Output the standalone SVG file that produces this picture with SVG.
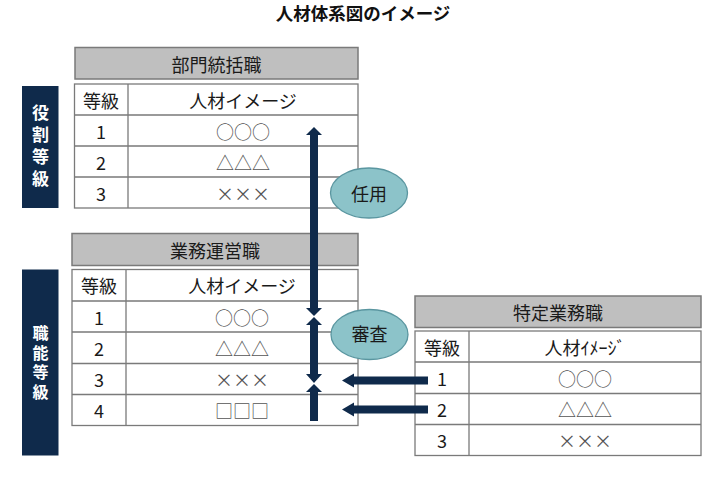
<svg xmlns="http://www.w3.org/2000/svg" width="720" height="498" viewBox="0 0 720 498">
<style>
text{font-family:"Noto Sans CJK JP","Noto Sans",sans-serif;dominant-baseline:central;text-anchor:middle;}
.t{font-size:18px;fill:#1a1a1a;}
.sym{font-size:18px;fill:#555;}
.title{font-size:17.5px;font-weight:bold;fill:#111;}
.hdr{fill:#bfbfbf;stroke:#7a7a7a;stroke-width:1.5;}
.tbl{fill:#fff;stroke:#7a7a7a;stroke-width:1.3;}
.ln{stroke:#7a7a7a;stroke-width:1.3;fill:none;}
.bar{fill:#0f2a4b;}
.bt{font-weight:bold;fill:#fff;writing-mode:vertical-rl;}
.arr{fill:#0f2a4b;}
.ell{fill:#8cc3c9;stroke:#5a96a0;stroke-width:1.3;}
</style>
<rect width="720" height="498" fill="#fff"/>
<text id="title" class="title" x="363" y="12">人材体系図のイメージ</text>

<g id="bar-yakuwari">
<rect class="bar" x="22" y="86" width="36.5" height="122"/>
<text class="bt" x="40.5" y="148" style="font-size:17px;letter-spacing:5px">役割等級</text>
</g>

<g id="bar-shokuno">
<rect class="bar" x="22" y="269.5" width="36.5" height="186"/>
<text class="bt" x="40.5" y="364" style="font-size:16px;letter-spacing:3.5px">職能等級</text>
</g>

<g id="table-bumon">
<rect class="hdr" x="75" y="47.5" width="283" height="31.5"/>
<text class="t" x="216.5" y="63.5">部門統括職</text>
<rect class="tbl" x="74.5" y="84" width="283.5" height="124"/>
<path class="ln" d="M128 84V208M74.5 115H358M74.5 146H358M74.5 177H358"/>
<text class="t" x="101" y="99.5">等級</text>
<text class="t" x="243" y="99.5">人材イメージ</text>
<text class="t" x="101" y="130.5">1</text>
<text class="sym" x="243" y="130.5">○○○</text>
<text class="t" x="101" y="161.5">2</text>
<text class="sym" x="243" y="161.5">△△△</text>
<text class="t" x="101" y="192.5">3</text>
<text class="sym" x="243" y="192.5">×××</text>
</g>

<g id="table-gyomu">
<rect class="hdr" x="72" y="233.5" width="286" height="32"/>
<text class="t" x="215" y="249.5">業務運営職</text>
<rect class="tbl" x="72" y="269.5" width="286" height="156"/>
<path class="ln" d="M126 269.5V425.5M72 301H358M72 332H358M72 363.5H358M72 394.5H358"/>
<text class="t" x="99" y="285.3">等級</text>
<text class="t" x="242" y="285.3">人材イメージ</text>
<text class="t" x="99" y="316.5">1</text>
<text class="sym" x="242" y="316.5">○○○</text>
<text class="t" x="99" y="347.8">2</text>
<text class="sym" x="242" y="347.8">△△△</text>
<text class="t" x="99" y="379">3</text>
<text class="sym" x="242" y="379">×××</text>
<text class="t" x="99" y="410">4</text>
<text class="sym" x="242" y="410">□□□</text>
</g>

<g id="table-tokutei">
<rect class="hdr" x="415" y="296" width="286" height="31.5"/>
<text class="t" x="558" y="311.5">特定業務職</text>
<rect class="tbl" x="415" y="331" width="286" height="124.5"/>
<path class="ln" d="M469 331V455.5M415 362H701M415 393.5H701M415 424.5H701"/>
<text class="t" x="442" y="346.5">等級</text>
<text class="t" x="585" y="346.5">人材ｲﾒｰｼﾞ</text>
<text class="t" x="442" y="377.8">1</text>
<text class="sym" x="585" y="377.8">○○○</text>
<text class="t" x="442" y="409">2</text>
<text class="sym" x="585" y="409">△△△</text>
<text class="t" x="442" y="440">3</text>
<text class="sym" x="585" y="440">×××</text>
</g>

<g id="connectors">
<polygon class="arr" points="314,127 322,135 318,135 318,308 322,308 314,316 306,308 310,308 310,135 306,135"/>
<polygon class="arr" points="314,317 322,325 318,325 318,374 322,374 314,383 306,374 310,374 310,325 306,325"/>
<polygon class="arr" points="314,384 322,392 318,392 318,421 310,421 310,392 306,392"/>
<polygon class="arr" points="342,380.5 354,373.5 354,376.5 428,376.5 428,384.5 354,384.5 354,387.5"/>
<polygon class="arr" points="342,409.5 354,402.5 354,405.5 428,405.5 428,413.5 354,413.5 354,416.5"/>
</g>

<g id="ninyo">
<ellipse class="ell" cx="369" cy="193" rx="38.5" ry="25"/>
<text class="t" x="369" y="193">任用</text>
</g>

<g id="shinsa">
<ellipse class="ell" cx="369.5" cy="334.5" rx="38.5" ry="25"/>
<text class="t" x="369.5" y="333">審査</text>
</g>
</svg>
